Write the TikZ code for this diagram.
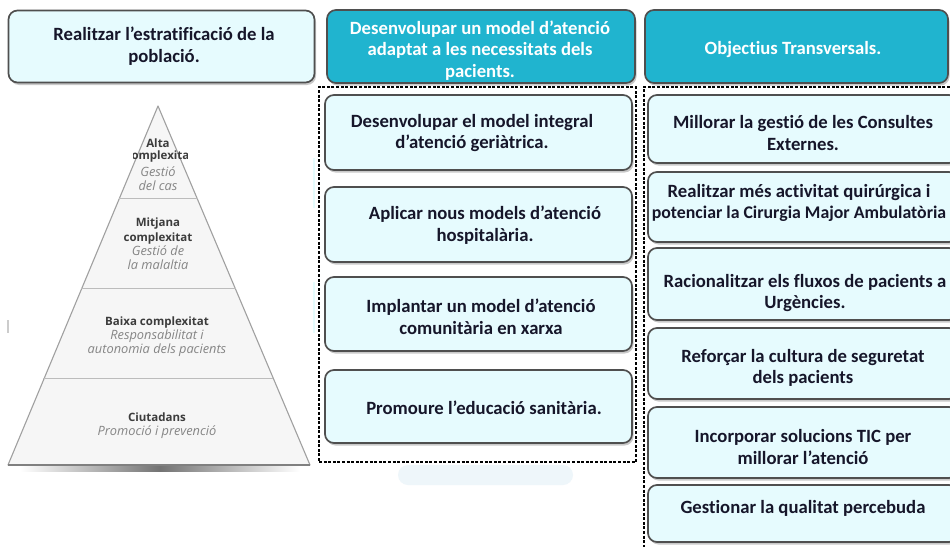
\documentclass[tikz,border=0pt]{standalone}
\usepackage{fontspec}
\setmainfont[Ligatures=NoCommon]{Carlito}
\newfontfamily\pyrfont{Open Sans}
\usetikzlibrary{shadows}
\definecolor{boxfill}{HTML}{E6FBFE}
\definecolor{boxline}{HTML}{4F4F4F}
\definecolor{hdrfill}{HTML}{20B4CF}
\definecolor{txtcol}{HTML}{16162A}
\definecolor{ptxt}{HTML}{3C3C3C}
\definecolor{psubc}{HTML}{858585}
\definecolor{pfill}{HTML}{F6F6F6}
\definecolor{pline}{HTML}{A0A0A0}
\definecolor{faint}{HTML}{EEF6FA}
\newcommand\subsz{\fontsize{12.8}{14.3}\selectfont}
\tikzset{
  pbox/.style={draw=boxline, line width=1.7pt, rounded corners=9pt, fill=boxfill, inner sep=0pt,
    drop shadow={shadow xshift=1.5pt, shadow yshift=-2.5pt, opacity=0.35, fill=black!60}},
  hbox/.style={pbox, fill=hdrfill},
  btxt/.style={align=center, inner sep=0pt, text=txtcol, font=\bfseries\fontsize{18.7}{21.8}\selectfont},
  htxt/.style={btxt, text=white},
  dcont/.style={draw=black, line width=1.3pt, dash pattern=on 3pt off 1.6pt, inner sep=0pt},
  ptitle/.style={align=center, inner sep=0pt, text=ptxt, font=\pyrfont\bfseries\fontsize{11.5}{14.3}\selectfont},
  psub/.style={align=center, inner sep=0pt, text=psubc, font=\pyrfont\itshape\subsz},
  pmix/.style={align=center, inner sep=0pt, font=\pyrfont\fontsize{11.5}{14.3}\selectfont},
}
\begin{document}
\begin{tikzpicture}[x=1pt,y=-1pt]
\useasboundingbox (0,0) rectangle (950,546);
\clip (0,0) rectangle (950,546);
\fill[white] (0,0) rectangle (950,546);

% faint artefacts
\fill[faint, rounded corners=10pt] (398,465) rectangle (573,485);
\draw[faint!80!cyan!40, line width=1.5pt] (314,158) -- (314,208);
\draw[faint!80!cyan!40, line width=1.5pt] (314,282) -- (314,333);
\draw[black!20, line width=1.5pt] (8,320) -- (8,333);

% ---------- headers ----------
\node[pbox, minimum width=306, minimum height=72] (h1) at (161.5,46.5) {};
\node[btxt] (h1t) at (164,46.5) {Realitzar l'estratificació  de la\\població.};
\node[hbox, minimum width=308, minimum height=73] (h2) at (481,46.5) {};
\node[htxt] (h2t) at (480,50.5) {Desenvolupar un model d'atenció\\adaptat  a les necessitats dels\\pacients.};
\node[hbox, minimum width=303, minimum height=73] (h3) at (796.5,46.5) {};
\node[htxt] (h3t) at (793,50) {Objectius Transversals.};

% ---------- pyramid ----------
\coordinate (apex) at (158,106);
\coordinate (bl) at (8,465);
\coordinate (br) at (310,465);
\shade[left color=white, right color=white, middle color=black!55] (20,465) rectangle (300,471);
\filldraw[fill=pfill, draw=pline, line width=1.1pt, line join=round] (apex) -- (bl) -- (br) -- cycle;
\draw[pline!70, line width=1pt] (119,198) -- (198,198);
\draw[pline!70, line width=1pt] (81,288) -- (236,288);
\draw[pline!70, line width=1pt] (43,378) -- (273,378);
\draw[pline!80!black, line width=1.2pt] (bl) -- (br);

\node[ptitle] (p1a) at (158,143) {Alta};
\begin{scope}
  \clip (133,148) rectangle (187,168);
  \node[ptitle] (p1b) at (160,157) {complexitat};
\end{scope}
\node[psub] (p1c) at (158,179) {Gestió\\del cas};
\node[pmix] (p2) at (158,244)
  {\textcolor{ptxt}{\bfseries Mitjana}\\\textcolor{ptxt}{\bfseries complexitat}\\\textcolor{psubc}{\itshape\subsz Gestió de}\\\textcolor{psubc}{\itshape\subsz la malaltia}};
\node[pmix] (p3) at (157,336.5)
  {\textcolor{ptxt}{\bfseries Baixa complexitat}\\\textcolor{psubc}{\itshape\subsz Responsabilitat i}\\\textcolor{psubc}{\itshape\subsz autonomia dels pacients}};
\node[pmix] (p4) at (157,426)
  {\textcolor{ptxt}{\bfseries Ciutadans}\\\textcolor{psubc}{\itshape\subsz Promoció i prevenció}};

% ---------- middle column ----------
\node[dcont, minimum width=317, minimum height=375] (mc) at (477.5,274.5) {};
\node[pbox, minimum width=307, minimum height=75] (m1) at (478.5,132.5) {};
\node[btxt] (m1t) at (472,133) {Desenvolupar el model integral\\d'atenció geriàtrica.};
\node[pbox, minimum width=307, minimum height=75] (m2) at (478.5,224.5) {};
\node[btxt] (m2t) at (485,225) {Aplicar  nous models d'atenció\\hospitalària.};
\node[pbox, minimum width=307, minimum height=74] (m3) at (478.5,314) {};
\node[btxt] (m3t) at (481,317) {Implantar  un model d'atenció\\comunitària  en xarxa};
\node[pbox, minimum width=307, minimum height=73] (m4) at (478.5,406.5) {};
\node[btxt] (m4t) at (484,408) {Promoure l'educació sanitària.};

% ---------- right column ----------
\node[dcont, minimum width=320, minimum height=480] (rc) at (804,327) {};
\node[pbox, minimum width=310, minimum height=68] (r1) at (803,129) {};
\node[btxt] (r1t) at (803,133) {Millorar  la gestió de les Consultes\\Externes.};
\node[pbox, minimum width=310, minimum height=70] (r2) at (803,207) {};
\node[btxt] (r2t) at (799,203) {Realitzar  més activitat  quirúrgica  i\\{\fontsize{17.8}{21.8}\selectfont potenciar la Cirurgia  Major  Ambulatòria}};
\node[pbox, minimum width=310, minimum height=72] (r3) at (803,284) {};
\node[btxt] (r3t) at (805,293) {Racionalitzar  els fluxos de pacients a\\Urgències.};
\node[pbox, minimum width=310, minimum height=71] (r4) at (803,363.5) {};
\node[btxt] (r4t) at (803,368) {Reforçar la cultura  de seguretat\\dels pacients};
\node[pbox, minimum width=310, minimum height=71] (r5) at (803,442.5) {};
\node[btxt] (r5t) at (803,447) {Incorporar  solucions TIC  per\\millorar  l'atenció};
\node[pbox, minimum width=310, minimum height=57] (r6) at (803,513.5) {};
\node[btxt] (r6t) at (803,508) {Gestionar la qualitat  percebuda};
\end{tikzpicture}
\end{document}
